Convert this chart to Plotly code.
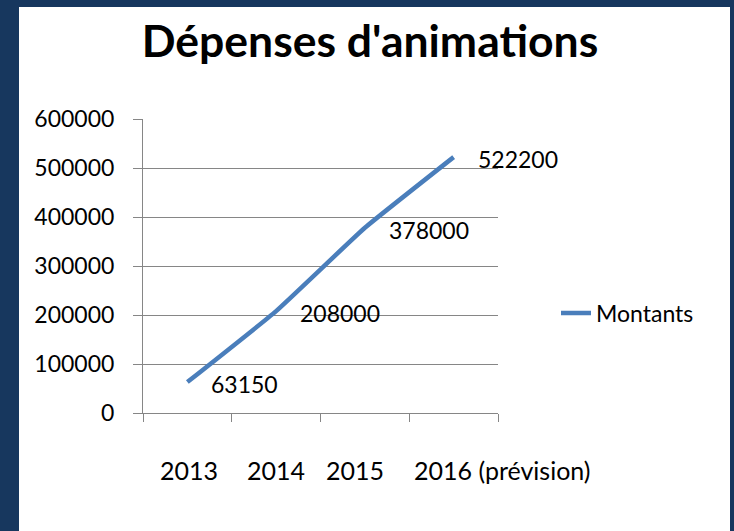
import plotly.graph_objects as go

categories = ["2013", "2014", "2015", "2016 (prévision)"]
montants = [63150, 208000, 378000, 522200]
label_texts = ["63150", "208000", "378000", "522200"]
y_ticks = [0, 100000, 200000, 300000, 400000, 500000, 600000]

# pixel nudges for x category labels (Excel layout)
xlabel_shift = [2, 0, -10, -42]
xlabel_anchor = ["center", "center", "center", "left"]

FONT = "Lato"
GRID = "#868686"
LINE = "#4A7EBB"
BORDER = "#17375E"

W, H = 734, 531
L, R, T, B = 143, 236, 119, 118
pw, ph = W - L - R, H - T - B

def px_to_paper_x(p):
    return (p - L) / pw

def px_to_paper_y(p):
    return (H - B - p) / ph

idx = list(range(len(categories)))

fig = go.Figure()
fig.add_trace(go.Scatter(
    x=idx, y=montants, mode="lines", name="Montants",
    line=dict(color=LINE, width=4.5, shape="spline", smoothing=0.35),
    hoverinfo="skip",
))

# white chart panel over dark border
fig.add_shape(type="rect", xref="paper", yref="paper", layer="below",
              x0=px_to_paper_x(19), x1=px_to_paper_x(730),
              y0=px_to_paper_y(H + 20), y1=px_to_paper_y(7),
              fillcolor="white", line=dict(width=0))

anns = []
for i, v, t in zip(idx, montants, label_texts):
    anns.append(dict(x=i, y=v, xref="x", yref="y", text=t, showarrow=False,
                     xanchor="left", yanchor="middle", xshift=22, yshift=-2,
                     font=dict(family=FONT, size=23, color="black")))
for i, c, s, a in zip(idx, categories, xlabel_shift, xlabel_anchor):
    anns.append(dict(x=i, y=0, xref="x", yref="paper", text=c, showarrow=False,
                     xanchor=a, yanchor="middle", xshift=s, yshift=-57,
                     font=dict(family=FONT, size=25, color="black")))

fig.update_layout(
    width=W, height=H,
    margin=dict(l=L, r=R, t=T, b=B, autoexpand=False),
    paper_bgcolor=BORDER, plot_bgcolor="white",
    title=dict(text="<b>Dépenses d'animations</b>", x=370 / W, xanchor="center",
               y=1 - 41 / H, yanchor="middle", yref="container",
               font=dict(family=FONT, size=44.5, color="black")),
    showlegend=True,
    legend=dict(x=px_to_paper_x(556), y=px_to_paper_y(313), xanchor="left", yanchor="middle",
                bgcolor="rgba(0,0,0,0)", font=dict(family=FONT, size=23, color="black")),
    annotations=anns,
    xaxis=dict(range=[-0.5, 3.5], tickvals=[-0.5, 0.5, 1.5, 2.5, 3.5], ticks="outside",
               ticklen=8, tickcolor=GRID, showticklabels=False, showgrid=False,
               showline=True, linecolor=GRID, linewidth=1, zeroline=False, fixedrange=True),
    yaxis=dict(range=[0, 600000], tickvals=y_ticks, tickformat="d", ticks="outside",
               ticklen=9, tickcolor=GRID, showline=True, linecolor=GRID, linewidth=1,
               showgrid=True, gridcolor=GRID, gridwidth=1, zeroline=False,
               ticklabelstandoff=14,
               tickfont=dict(family=FONT, size=23, color="black"), fixedrange=True),
)

fig.write_html("out.html", config={"displayModeBar": False},
               post_script="document.body.style.margin='0';document.body.style.background='#17375E';document.body.style.overflow='hidden';")
